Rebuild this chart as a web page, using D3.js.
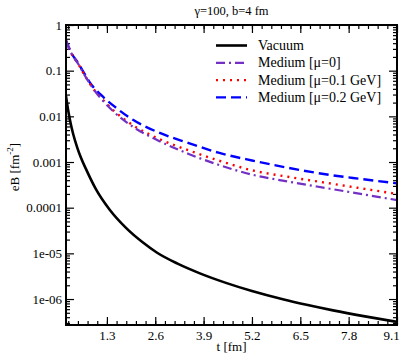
<!DOCTYPE html>
<html lang="en">
  <head>
    <meta charset="utf-8" />
    <title>eB vs t</title>
    <style>
      body {
        margin: 0;
        background: #fff;
      }
      svg {
        display: block;
      }
      svg text {
        font-family: "Liberation Serif", "Times New Roman", serif !important;
      }
      .axis path {
        display: none;
      }
      .axis line {
        stroke: #000;
        stroke-width: 1.2px;
      }
      .axis text {
        font-size: 13px;
        fill: #000;
      }
    </style>
  </head>
  <body>
    <svg width="403" height="359"></svg>
    <script src="https://d3js.org/d3.v7.min.js"></script>
    <script>
      // vacuum curve
      const tVac = [0.2, 0.25, 0.3, 0.35, 0.4, 0.5, 0.6, 0.76, 1.0, 1.38, 1.8, 2.27, 2.65, 3.2, 3.8, 4.5, 5.2, 6.03, 6.7, 7.38, 8.2, 9.1];
      const vacuum = [0.028, 0.0149, 0.0089, 0.0057, 0.0039, 0.0021, 0.00125, 6.4e-4, 2.58e-4, 8.9e-5, 3.7e-5, 1.72e-5, 1.03e-5, 5.95e-6, 3.65e-6, 2.26e-6, 1.5e-6, 9.9e-7, 7.4e-7, 5.65e-7, 4.22e-7, 3.16e-7];

      // medium curves share one time grid
      const tMed = [0.2, 0.35, 0.53, 0.7, 0.89, 1.15, 1.5, 2.0, 2.7, 3.5, 4.3, 5.2, 6.2, 7.3, 8.2, 9.1];
      const medMu0 = [0.45, 0.235, 0.14, 0.08, 0.045, 0.024, 0.0123, 0.0059, 0.0029, 0.0015, 8.7e-4, 5.3e-4, 3.7e-4, 2.6e-4, 1.95e-4, 1.47e-4];
      const medMu01 = [0.45, 0.235, 0.14, 0.08, 0.045, 0.025, 0.013, 0.0064, 0.0032, 0.0018, 0.00108, 6.6e-4, 4.7e-4, 3.4e-4, 2.6e-4, 2.0e-4];
      const medMu02 = [0.46, 0.24, 0.145, 0.085, 0.0485, 0.029, 0.0165, 0.0084, 0.0044, 0.0026, 0.0016, 0.00108, 7.4e-4, 5.2e-4, 4.2e-4, 3.4e-4];

      const xTicks = [1.3, 2.6, 3.9, 5.2, 6.5, 7.8, 9.1];
      const yTicks = [1, 0.1, 0.01, 0.001, 1e-4, 1e-5, 1e-6];
      const yTickLabels = ["1", "0.1", "0.01", "0.001", "0.0001", "1e-05", "1e-06"];

      const series = [
        { name: "Vacuum", t: tVac, v: vacuum, color: "#000", dash: null, width: 2.6 },
        { name: "Medium [\u03bc=0]", t: tMed, v: medMu0, color: "#7330c4", dash: "9,4,2,4", width: 2.2 },
        { name: "Medium [\u03bc=0.1 GeV]", t: tMed, v: medMu01, color: "#ff0000", dash: "2,5", width: 2.4 },
        { name: "Medium [\u03bc=0.2 GeV]", t: tMed, v: medMu02, color: "#0000ff", dash: "10,5", width: 2.4 }
      ];

      const pl = 66, pr = 397, pt = 25, pb = 325;
      const svg = d3.select("svg");

      const x = d3.scaleLinear().domain([0.2, 9.1]).range([pl, pr]);
      const y = d3.scaleLog().domain([2.7e-7, 1]).range([pb, pt]);

      // minor ticks
      const xMinor = d3.range(0.26, 9.1, 0.26).filter((t) => t > 0.2 && t < 9.1);
      const yMinor = [];
      for (let e = -7; e <= -1; e++) {
        for (let m = 2; m <= 9; m++) {
          const v = m * Math.pow(10, e);
          if (v > 2.7e-7 && v < 1) yMinor.push(v);
        }
      }

      function addAxis(axisFn, scale, transform, major, minor, labels, pad) {
        svg.append("g")
          .attr("class", "axis")
          .attr("transform", transform)
          .call(axisFn(scale).tickValues(minor).tickSize(-4).tickFormat(""));
        return svg.append("g")
          .attr("class", "axis")
          .attr("transform", transform)
          .call(
            axisFn(scale)
              .tickValues(major)
              .tickSize(-8)
              .tickPadding(pad || 0)
              .tickFormat(labels ? (d, i) => labels[i] : "")
          );
      }

      const xl = addAxis(d3.axisBottom, x, `translate(0,${pb})`, xTicks, xMinor, xTicks.map((d) => d.toFixed(1)), 6);
      addAxis(d3.axisTop, x, `translate(0,${pt})`, xTicks, xMinor, null);
      const yl = addAxis(d3.axisLeft, y, `translate(${pl},0)`, yTicks, yMinor, yTickLabels);
      addAxis(d3.axisRight, y, `translate(${pr},0)`, yTicks, yMinor, null);
      yl.selectAll("text").attr("x", -4);
      // last label sits left of its tick so it stays on the page
      xl.selectAll("text").filter((d) => d === 9.1).attr("x", -6);

      // curves
      svg.append("clipPath").attr("id", "clip")
        .append("rect").attr("x", pl).attr("y", pt)
        .attr("width", pr - pl).attr("height", pb - pt);

      const line = d3.line()
        .curve(d3.curveMonotoneX)
        .x((d) => x(d[0]))
        .y((d) => y(d[1]));

      const curves = svg.append("g").attr("clip-path", "url(#clip)");
      series.slice().reverse().forEach((s) => {
        curves.append("path")
          .datum(s.t.map((t, i) => [t, s.v[i]]))
          .attr("fill", "none")
          .attr("stroke", s.color)
          .attr("stroke-width", s.width)
          .attr("stroke-dasharray", s.dash)
          .attr("d", line);
      });

      // frame
      svg.append("rect")
        .attr("x", pl).attr("y", pt)
        .attr("width", pr - pl).attr("height", pb - pt)
        .attr("fill", "none").attr("stroke", "#000").attr("stroke-width", 2);

      // legend
      const legend = svg.append("g");
      series.forEach((s, i) => {
        const ly = 45.5 + i * 17.3;
        legend.append("line")
          .attr("x1", 216).attr("x2", 247).attr("y1", ly).attr("y2", ly)
          .attr("stroke", s.color)
          .attr("stroke-width", s.width)
          .attr("stroke-dasharray", s.dash);
        legend.append("text")
          .attr("x", 258).attr("y", ly + 4.5)
          .attr("font-size", 14)
          .text(s.name);
      });

      // title and axis labels
      svg.append("text")
        .attr("x", (pl + pr) / 2).attr("y", 15)
        .attr("text-anchor", "middle").attr("font-size", 12.5)
        .text("\u03b3=100, b=4 fm");

      svg.append("text")
        .attr("x", (pl + pr) / 2).attr("y", 351)
        .attr("text-anchor", "middle").attr("font-size", 13)
        .text("t [fm]");

      const ylab = svg.append("text")
        .attr("transform", "translate(19,167) rotate(-90)")
        .attr("text-anchor", "middle").attr("font-size", 13);
      ylab.append("tspan").text("eB [fm");
      ylab.append("tspan").attr("font-size", 9).attr("dy", -6).text("-2");
      ylab.append("tspan").attr("dy", 6).text("]");
    </script>
  </body>
</html>
